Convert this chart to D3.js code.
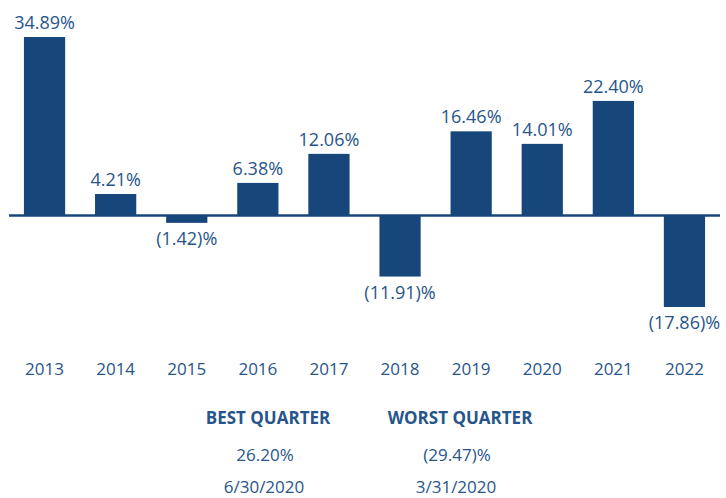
<!DOCTYPE html>
<html><head><meta charset="utf-8">
<script src="https://cdn.jsdelivr.net/npm/d3@7"></script>
<style>body{margin:0;background:#fff}svg{display:block}</style>
</head><body>
<svg id="c" width="726" height="498"></svg>
<script>
const years = ["2013","2014","2015","2016","2017","2018","2019","2020","2021","2022"];
const returns = [34.89, 4.21, -1.42, 6.38, 12.06, -11.91, 16.46, 14.01, 22.40, -17.86];
const quarterHeads = ["BEST QUARTER", "WORST QUARTER"];
const quarterValues = [26.20, -29.47];
const quarterDates = ["6/30/2020", "3/31/2020"];

const barColor = "#17467b", textColor = "#27558a";
const font = "'Open Sans', sans-serif";
const svg = d3.select("#c");
const x = d3.scaleBand().domain(years).range([9, 720]).paddingInner(0.42).paddingOuter(0.21);
const y = d3.scaleLinear().domain([-17.86, 34.89]).range([307, 37]);
const fmt = v => v < 0 ? "(" + Math.abs(v).toFixed(2) + ")%" : v.toFixed(2) + "%";

svg.selectAll("rect.bar").data(returns).join("rect")
  .attr("x", (d,i) => x(years[i])).attr("width", x.bandwidth())
  .attr("y", d => Math.min(y(d), y(0))).attr("height", d => Math.abs(y(d) - y(0)))
  .attr("fill", barColor);

svg.append("line").attr("x1", 9).attr("x2", 720).attr("y1", y(0)).attr("y2", y(0))
  .attr("stroke", barColor).attr("stroke-width", 2.5);

svg.selectAll("text.val").data(returns).join("text")
  .attr("x", (d,i) => x(years[i]) + x.bandwidth()/2)
  .attr("y", d => d >= 0 ? y(d) - 8 : y(d) + 22)
  .attr("text-anchor", "middle").attr("font-family", font).attr("font-size", 18)
  .attr("fill", textColor).text(fmt);

const xa = svg.append("g").attr("transform", "translate(0,375)")
  .call(d3.axisBottom(x).tickSize(0).tickPadding(0));
xa.select(".domain").remove();
xa.selectAll("text").attr("font-family", font).attr("font-size", 17).attr("fill", textColor).attr("dy", 0);

const qx = d3.scalePoint().domain(quarterHeads).range([268, 460]);
quarterHeads.forEach((h, i) => {
  const cx = qx(h);
  svg.append("text").attr("x", cx).attr("y", 424).attr("text-anchor", "middle")
    .attr("font-family", font).attr("font-weight", "bold").attr("font-size", 17)
    .attr("fill", textColor).text(h);
  svg.append("text").attr("x", cx - 3).attr("y", 461).attr("text-anchor", "middle")
    .attr("font-family", font).attr("font-size", 17).attr("fill", textColor).text(fmt(quarterValues[i]));
  svg.append("text").attr("x", cx - 4).attr("y", 493).attr("text-anchor", "middle")
    .attr("font-family", font).attr("font-size", 17).attr("fill", textColor).text(quarterDates[i]);
});
</script>
</body></html>
